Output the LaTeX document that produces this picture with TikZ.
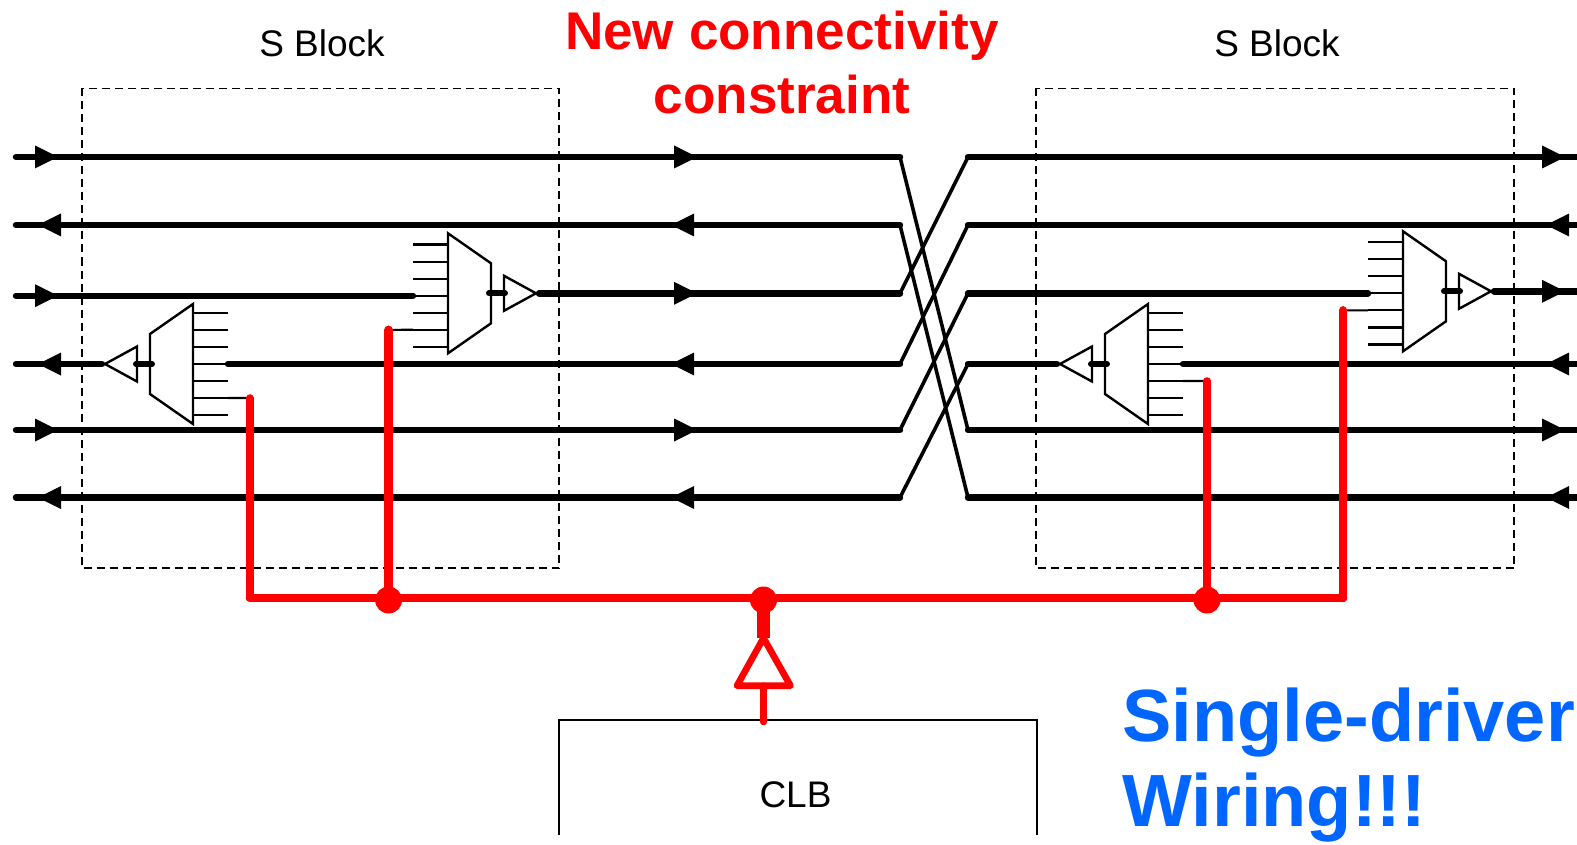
\documentclass[tikz,border=0pt]{standalone}
\usepackage{fontspec}
\setmainfont{Liberation Sans}
\usetikzlibrary{positioning}

\definecolor{wireblue}{RGB}{0,102,255}

\tikzset{
    wire/.style={line width=6.4pt, line cap=round, line join=round},
    xwire/.style={line width=3.6pt, line cap=round},
    thinline/.style={line width=2.2pt},
    muxbody/.style={line width=2.4pt, line join=miter},
    redwire/.style={red, line width=8.6pt, line cap=round},
    blockbox/.style={line width=1.6pt, dash pattern=on 8pt off 5pt},
    blocklabel/.style={font=\fontsize{37}{37}\selectfont},
    redtitle/.style={text=red, font=\bfseries\fontsize{53.1}{64}\selectfont, align=center},
    bluetitle/.style={text=wireblue, font=\bfseries\fontsize{74}{85}\selectfont, align=left, anchor=west}
}

\begin{document}
\begin{tikzpicture}[x=1pt, y=-1pt]

\useasboundingbox (0,0) rectangle (1577,845);
\clip (0,0) rectangle (1577,845);

% Macro: one mux with its seven inputs and output buffer
\newcommand{\muxbuffer}[5]{
\begin{scope}[shift={(#2,#3)}, xscale=#4]

    \draw[muxbody] (0,-60) -- (43,-30) -- (43,30) -- (0,60) -- cycle;

    % Inputs
    \foreach \i in {1,...,7} {
        \coordinate (#1-s\i) at (-35,{(\i-4)*17.05+#5});
        \coordinate (#1-i\i) at (0,{(\i-4)*17.05+#5});
        \draw[thinline] (#1-s\i) -- (#1-i\i);
    }

    % Buffer
    \draw[line width=6pt, line cap=round] (41,0) -- (57,0);
    \draw[muxbody] (56,-17.5) -- (88,0) -- (56,17.5) -- cycle;
    \coordinate (#1-out) at (91,0);

\end{scope}
}

% Macro: arrowhead on a wire, dir 1 points left, dir -1 points right
\newcommand{\wiretip}[3]{
    \fill[shift={(#1,#2)}, xscale=#3] (0,0) -- (23,-11.5) -- (23,11.5) -- cycle;
}

% S Blocks
\draw[blockbox] (82,88.5) rectangle (559,568);
\draw[blockbox] (1036,88.5) rectangle (1514,568);
\node[blocklabel] (sblockl) at (322,43.5) {S Block};
\node[blocklabel] (sblockr) at (1277,43.5) {S Block};

% Wire ends
\foreach \n/\ya/\yb/\yd in {1/157/157/157, 2/225/225/225, 3/295.7/293.3/291.3,
                            4/364/364/364, 5/430/430/430, 6/497.5/497.5/497.5} {
    \coordinate (a\n) at (16,\ya);
    \coordinate (b\n) at (900,\yb);
    \coordinate (c\n) at (968,\yb);
    \coordinate (d\n) at (1580,\yd);
}

\muxbuffer{muxb}{448}{293.3}{1}{2.4}
\muxbuffer{muxa}{193}{364}{-1}{0}
\muxbuffer{muxd}{1403}{291.3}{1}{2}
\muxbuffer{muxc}{1148}{364}{-1}{0}

% Long wires
\foreach \n in {1,2,5,6} {
    \draw[wire] (a\n) -- (b\n);
    \draw[wire] (c\n) -- (d\n);
}
\draw[wire] (a3) -- (muxb-s4);
\draw[wire] (muxb-out) -- (b3);
\draw[wire] (c3) -- (muxd-s4);
\draw[wire] (muxd-out) -- (d3);
\draw[wire] (a4) -- (muxa-out);
\draw[wire] (muxa-s4) -- (b4);
\draw[wire] (c4) -- (muxc-out);
\draw[wire] (muxc-s4) -- (d4);

% Crossing
\draw[xwire] (b1) -- (c5);
\draw[xwire] (b2) -- (c6);
\draw[xwire] (b3) -- (c1);
\draw[xwire] (b4) -- (c2);
\draw[xwire] (b5) -- (c3);
\draw[xwire] (b6) -- (c4);

% Arrowheads
\foreach \y in {157,295.7,430} {
    \wiretip{58}{\y}{-1}
}
\foreach \y in {225,364,497.5} {
    \wiretip{38}{\y}{1}
    \wiretip{671}{\y}{1}
    \wiretip{1546}{\y}{1}
}
\foreach \y in {157,293.3,430} {
    \wiretip{697}{\y}{-1}
}
\foreach \y in {157,291.3,430} {
    \wiretip{1565}{\y}{-1}
}

% Red taps
\coordinate (tapa) at (250,398);
\coordinate (tapb) at (388.6,329.9);
\coordinate (tapc) at (1207,381);
\coordinate (tapd) at (1343,310.4);
\coordinate (busa) at (250,598);
\coordinate (busb) at (388.6,598);
\coordinate (busm) at (763.5,598);
\coordinate (busc) at (1207,598);
\coordinate (busd) at (1343,598);

\draw[thinline] (muxa-s6) -- (tapa);
\draw[thinline] (muxb-s6) -- (tapb);
\draw[thinline] (muxc-s5) -- (tapc);
\draw[thinline] (muxd-s5) -- (tapd);

\draw[redwire, line width=7.6pt] (tapa) -- (busa);
\draw[redwire] (tapb) -- (busb);
\draw[redwire, line width=7.6pt] (tapc) -- (busc);
\draw[redwire] (tapd) -- (busd);
\draw[redwire] (busa) -- (busd);

\foreach \p in {busb,busm,busc} {
    \fill[red] (\p) ++(0,2) circle (13.5);
}

% CLB and its driver
\coordinate (clbtl) at (559,720);
\coordinate (clbtr) at (1037,720);
\coordinate (clbbl) at (559,835);
\coordinate (clbbr) at (1037,835);
\coordinate (clbin) at (763.5,722);
\coordinate (drvtop) at (763.5,638);
\coordinate (drvl) at (737,685.7);
\coordinate (drvr) at (790.5,685.7);
\coordinate (drvbase) at (763.5,685.7);

\draw[thinline] (clbbl) -- (clbtl) -- (clbtr) -- (clbbr);
\node[blocklabel] (clb) at (795.5,795) {CLB};

\draw[red, line width=12.5pt] (busm) -- (drvtop);
\draw[red, line width=6.6pt, line join=round] (drvtop) -- (drvr) -- (drvl) -- cycle;
\draw[redwire, line width=6.6pt] (drvbase) -- (clbin);

% Titles
\node[redtitle] (newcon) at (782,62.5) {New connectivity\\constraint};
\node[bluetitle] (single) at (1119,765.5) {Single-driver\\Wiring!!!};

\end{tikzpicture}
\end{document}
